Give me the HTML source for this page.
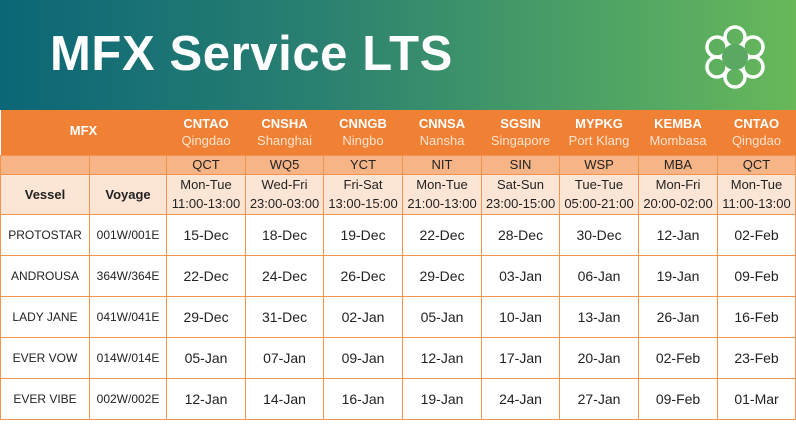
<!DOCTYPE html>
<html><head><style>
body{margin:0;width:796px;height:429px;background:#fff;overflow:hidden;font-family:"Liberation Sans",sans-serif;position:relative}
.hdr{position:absolute;left:0;top:0;width:796px;height:110px;background:linear-gradient(90deg,#0b6677 0%,#2a8070 40%,#4da265 75%,#68b85a 100%)}
.title{position:absolute;left:50px;top:26px;color:#fff;font-size:49px;font-weight:bold;letter-spacing:0.6px;font-family:"Liberation Sans",sans-serif}
table{position:absolute;left:0;top:110px;border-collapse:collapse;table-layout:fixed;width:795px}
td{padding:0;text-align:center;vertical-align:middle;color:#222;border:1.5px solid #f1944f;overflow:hidden;white-space:nowrap}
.o td{background:#ef8034;color:#fff;border:none;border-bottom:1.5px solid #f1944f}
.o b{font-size:13px;display:block;line-height:17px}
.o span{font-size:13px;color:#fde3cf;display:block;line-height:17px}
.c td{background:#f6b487;font-size:13px;height:18px}
.t td{background:#fde5d5;font-size:13px;line-height:19px}
.d td{font-size:14px;height:40px}
.d td.v{font-size:12px}
</style></head><body>
<div class="hdr"><div class="title">MFX Service LTS</div>
<svg style="position:absolute;left:700px;top:24px" width="70" height="66" viewBox="0 0 70 66">
<g fill="none" stroke="#fff" stroke-width="3.5">
<circle cx="35" cy="13" r="10"/><circle cx="53" cy="23" r="10"/><circle cx="53" cy="43" r="10"/>
<circle cx="35" cy="53" r="10"/><circle cx="17" cy="43" r="10"/><circle cx="17" cy="23" r="10"/>
</g>
<circle cx="35" cy="33" r="13" fill="#5aa862"/>
</svg></div>
<table>
<colgroup><col style="width:89px"><col style="width:77px"><col style="width:79px"><col style="width:78px"><col style="width:79px"><col style="width:79px"><col style="width:78px"><col style="width:79px"><col style="width:79px"><col style="width:78px"></colgroup>
<tr class="o" style="height:45px"><td colspan="2" style="font-weight:bold;font-size:13px;color:#fff;padding-bottom:4px">MFX</td>
<td><b>CNTAO</b><span>Qingdao</span></td><td><b>CNSHA</b><span>Shanghai</span></td><td><b>CNNGB</b><span>Ningbo</span></td><td><b>CNNSA</b><span>Nansha</span></td><td><b>SGSIN</b><span>Singapore</span></td><td><b>MYPKG</b><span>Port Klang</span></td><td><b>KEMBA</b><span>Mombasa</span></td><td><b>CNTAO</b><span>Qingdao</span></td></tr>
<tr class="c"><td></td><td></td><td>QCT</td><td>WQ5</td><td>YCT</td><td>NIT</td><td>SIN</td><td>WSP</td><td>MBA</td><td>QCT</td></tr>
<tr class="t" style="height:40px"><td style="font-weight:bold">Vessel</td><td style="font-weight:bold">Voyage</td>
<td>Mon-Tue<br>11:00-13:00</td><td>Wed-Fri<br>23:00-03:00</td><td>Fri-Sat<br>13:00-15:00</td><td>Mon-Tue<br>21:00-13:00</td><td>Sat-Sun<br>23:00-15:00</td><td>Tue-Tue<br>05:00-21:00</td><td>Mon-Fri<br>20:00-02:00</td><td>Mon-Tue<br>11:00-13:00</td></tr>
<tr class="d"><td class="v">PROTOSTAR</td><td class="v">001W/001E</td><td>15-Dec</td><td>18-Dec</td><td>19-Dec</td><td>22-Dec</td><td>28-Dec</td><td>30-Dec</td><td>12-Jan</td><td>02-Feb</td></tr>
<tr class="d"><td class="v">ANDROUSA</td><td class="v">364W/364E</td><td>22-Dec</td><td>24-Dec</td><td>26-Dec</td><td>29-Dec</td><td>03-Jan</td><td>06-Jan</td><td>19-Jan</td><td>09-Feb</td></tr>
<tr class="d"><td class="v">LADY JANE</td><td class="v">041W/041E</td><td>29-Dec</td><td>31-Dec</td><td>02-Jan</td><td>05-Jan</td><td>10-Jan</td><td>13-Jan</td><td>26-Jan</td><td>16-Feb</td></tr>
<tr class="d"><td class="v">EVER VOW</td><td class="v">014W/014E</td><td>05-Jan</td><td>07-Jan</td><td>09-Jan</td><td>12-Jan</td><td>17-Jan</td><td>20-Jan</td><td>02-Feb</td><td>23-Feb</td></tr>
<tr class="d"><td class="v">EVER VIBE</td><td class="v">002W/002E</td><td>12-Jan</td><td>14-Jan</td><td>16-Jan</td><td>19-Jan</td><td>24-Jan</td><td>27-Jan</td><td>09-Feb</td><td>01-Mar</td></tr>
</table>
</body></html>
